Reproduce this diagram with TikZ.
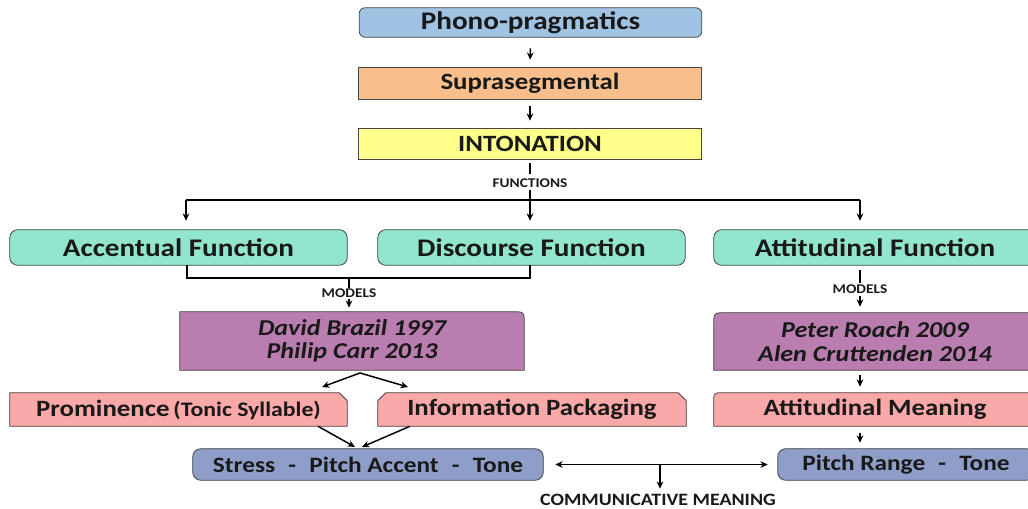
\documentclass[tikz,border=0pt]{standalone}
\usepackage{fontspec}
\setmainfont{Carlito}[FakeStretch=1.15]
\usetikzlibrary{backgrounds,arrows.meta}
\definecolor{cphono}{RGB}{160,195,228}
\definecolor{csupra}{RGB}{248,190,140}
\definecolor{cinto}{RGB}{255,255,140}
\definecolor{cfunc}{RGB}{145,230,205}
\definecolor{cmodel}{RGB}{185,125,175}
\definecolor{cmean}{RGB}{250,168,168}
\definecolor{cform}{RGB}{142,158,200}
\definecolor{txt}{RGB}{25,25,25}
\definecolor{bord}{RGB}{70,70,70}
\newcommand{\fsz}[2]{\fontsize{#1}{#2}\selectfont}
\begin{document}
\begin{tikzpicture}[x=0.75pt,y=-0.75pt,
  box/.style={inner sep=0pt, align=center, text=txt},
  bx/.style 2 args={minimum width=#1*0.75pt, minimum height=#2*0.75pt},
  big/.style={font=\bfseries\fsz{19}{22}},
  mid/.style={font=\bfseries\fsz{17.5}{20}},
  ital/.style={font=\bfseries\itshape\fsz{17}{17.5}},
  small/.style={inner sep=0pt, text=txt, font=\bfseries\fsz{10}{11}},
  ln/.style={draw=black, line width=1.1pt},
  arr/.style={ln, -{Stealth[length=5.5pt,width=5pt]}},
  dbl/.style={ln, {Stealth[length=5.5pt,width=5pt]}-{Stealth[length=5.5pt,width=5pt]}},
  edge/.style={draw=bord, line width=0.6pt}]
\useasboundingbox (0,0) rectangle (1028,509);
% nodes
\node[box,bx={342}{29},font=\bfseries\fsz{19}{22}] (phono) at (530.5,22.5) {Phono-pragmatics};
\node[box,bx={342}{31},mid] (supra) at (530,83.5) {Suprasegmental};
\node[box,bx={342}{30},mid] (inton) at (530,144) {INTONATION};
\node[small] (funcs) at (530,183) {FUNCTIONS};
\node[box,bx={337}{35},big] (acc) at (178.5,247.5) {Accentual Function};
\node[box,bx={307}{35},big] (disc) at (531.5,247.5) {Discourse Function};
\node[box,bx={322}{35},big] (attf) at (875,247.5) {Attitudinal Function};
\node[small] (mod1) at (349,293) {MODELS};
\node[small] (mod2) at (860,289) {MODELS};
\node[box,bx={344}{58},ital] (david) at (352,341) {David Brazil 1997\\Philip Carr 2013};
\node[box,bx={322}{57},ital] (peter) at (875,341.5) {Peter Roach 2009\\Alen Cruttenden 2014};
\node[box,bx={337}{33},mid] (prom) at (178.5,409.5) {Prominence\,{\fsz{15.5}{17}(Tonic Syllable)}};
\node[box,bx={308}{33},mid] (info) at (532,409.5) {Information Packaging};
\node[box,bx={322}{33},mid] (attm) at (875,409.5) {Attitudinal Meaning};
\node[box,bx={350}{31},font=\bfseries\fsz{16.5}{19}] (stress) at (368,464.5) {Stress\hspace{0.6em}-\hspace{0.6em}Pitch Accent\hspace{0.6em}-\hspace{0.6em}Tone};
\node[box,bx={256}{31},font=\bfseries\fsz{16.5}{19}] (pitch) at (906,464.5) {Pitch Range\hspace{0.6em}-\hspace{0.6em}Tone};
\node[small,font=\bfseries\fsz{13}{14},text depth=0pt] (comm) at (658,500) {COMMUNICATIVE MEANING};
% box shapes
\begin{scope}[on background layer]
\draw[edge,fill=cphono,rounded corners=4.5pt] (phono.south west) rectangle (phono.north east);
\draw[edge,fill=csupra] (supra.south west) rectangle (supra.north east);
\draw[edge,fill=cinto] (inton.south west) rectangle (inton.north east);
\foreach \n in {acc,disc,attf}{
  \draw[edge,fill=cfunc,rounded corners=6pt] (\n.south west) rectangle (\n.north east);}
\foreach \n in {stress,pitch}{
  \draw[edge,fill=cform,rounded corners=6pt] (\n.south west) rectangle (\n.north east);}
\draw[edge,fill=cmodel] (david.south west) -- (david.north west) -- ([xshift=-9pt]david.north east)
  .. controls (david.north east) .. ([yshift=-9pt]david.north east) -- (david.south east) -- cycle;
\draw[edge,fill=cmodel] (peter.south east) -- (peter.north east) -- ([xshift=9pt]peter.north west)
  .. controls (peter.north west) .. ([yshift=-9pt]peter.north west) -- (peter.south west) -- cycle;
\draw[edge,fill=cmean] (prom.south west) -- (prom.north west) -- ([xshift=-6pt]prom.north east)
  -- ([yshift=-6pt]prom.north east) -- (prom.south east) -- cycle;
\draw[edge,fill=cmean] (info.south west) -- ([yshift=-6pt]info.north west) -- ([xshift=6pt]info.north west)
  -- ([xshift=-6pt]info.north east) -- ([yshift=-6pt]info.north east) -- (info.south east) -- cycle;
\draw[edge,fill=cmean] (attm.south east) -- (attm.north east) -- ([xshift=7pt]attm.north west)
  .. controls (attm.north west) .. ([yshift=-7pt]attm.north west) -- (attm.south west) -- cycle;
\end{scope}
% connectors
\coordinate (fs) at (530,200);
\coordinate (fl) at (186,200);
\coordinate (fr) at (860,200);
\coordinate (ml) at (187,278);
\coordinate (mr) at (530,278);
\coordinate (dap) at (360,373);
\coordinate (ptip) at (322,387);
\coordinate (itip) at (408,387);
\coordinate (sl) at (355,447);
\coordinate (sr) at (362,447);
\coordinate (cm) at (660,464.5);
\draw[arr,shorten <=8.25pt,shorten >=6pt] (phono.south) -- (supra.north);
\draw[arr,shorten <=5.25pt,shorten >=6pt] (supra.south) -- (inton.north);
\draw[ln,shorten <=3pt,shorten >=3pt] (inton.south) -- (funcs.north);
\draw[ln,shorten <=2pt] (funcs.south) -- (fs);
\draw[ln] (fl) -- (fr);
\draw[arr,shorten >=6.75pt] (fl) -- (fl |- acc.north);
\draw[arr,shorten >=6.75pt] (fs) -- (fs |- disc.north);
\draw[arr,shorten >=6.75pt] (fr) -- (fr |- attf.north);
\draw[ln] (ml |- acc.south) -- (ml) -- (mr) -- (mr |- disc.south);
\draw[ln] (mod1.north |- ml) -- (mod1.north);
\draw[arr,shorten <=1pt,shorten >=3pt] (mod1.south) -- (mod1.south |- david.north);
\draw[ln,shorten <=3.75pt,shorten >=1pt] (mod2.north |- attf.south) -- (mod2.north);
\draw[arr,shorten <=2pt,shorten >=4.5pt] (mod2.south) -- (mod2.south |- peter.north);
\draw[dbl] (ptip) -- (dap) -- (itip);
\draw[arr] (prom.south -| 318,0) -- (sl);
\draw[arr] ([xshift=1.5pt]info.south -| 408,0) -- (sr);
\draw[arr,shorten <=3.75pt,shorten >=4.5pt] (fr |- peter.south) -- (fr |- attm.north);
\draw[arr,shorten <=5pt,shorten >=4.5pt] (fr |- attm.south) -- (fr |- pitch.north);
\draw[dbl,shorten <=9pt,shorten >=7.5pt] (stress.east) -- (pitch.west);
\draw[arr,shorten >=4pt] (cm) -- (comm.north -| cm);
\end{tikzpicture}
\end{document}
